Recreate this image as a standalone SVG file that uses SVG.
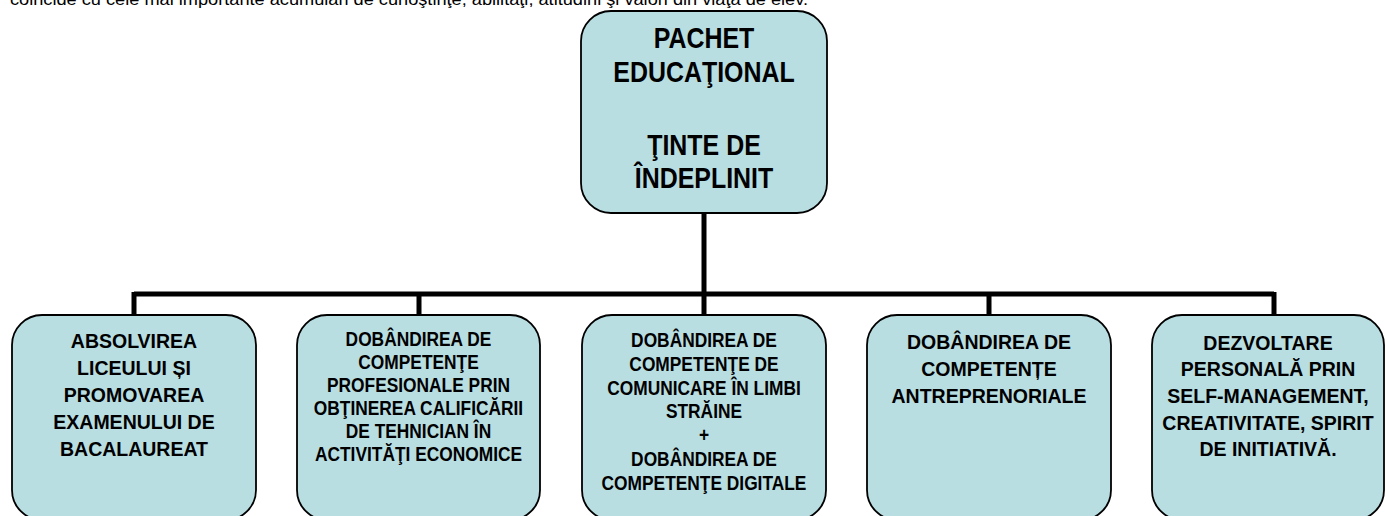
<svg xmlns="http://www.w3.org/2000/svg" width="1385" height="516" viewBox="0 0 1385 516">
<style>
.box{fill:#B8DEE2;stroke:#000;stroke-width:1.8}
.t{font-family:"Liberation Sans",Arial,sans-serif;font-weight:bold;fill:#000;text-anchor:middle}
.big{font-size:29px}
.sm{font-size:19.5px}
.top{font-family:"Liberation Sans",Arial,sans-serif;font-size:16px;fill:#000}
.conn{stroke:#000;stroke-width:5;fill:none}
</style>
<rect width="1385" height="516" fill="#fff"/>
<text class="top" x="10" y="4.5" textLength="798" lengthAdjust="spacingAndGlyphs">coincide cu cele mai importante acumulări de cunoştinţe, abilităţi, atitudini şi valori din viaţa de elev.</text>
<g id="connectors">
<path class="conn" d="M704 213 V294 M134 294 H1274 M134 292 V315 M419 292 V315 M704 292 V315 M989 292 V315 M1274 292 V315"/>
</g>
<g id="root">
<rect class="box" x="581" y="11" width="246" height="202" rx="30"/>
<g transform="translate(704,0) scale(0.86,1)">
<text class="t big" x="0" y="48">PACHET</text>
<text class="t big" x="0" y="82">EDUCAŢIONAL</text>
<text class="t big" x="0" y="155">ŢINTE DE</text>
<text class="t big" x="0" y="188">ÎNDEPLINIT</text>
</g>
</g>
<g id="n1">
<rect class="box" x="12" y="315" width="244" height="205" rx="30"/>
<text class="t sm" x="134" y="348">ABSOLVIREA</text>
<text class="t sm" x="134" y="375">LICEULUI ȘI</text>
<text class="t sm" x="134" y="402">PROMOVAREA</text>
<text class="t sm" x="134" y="429">EXAMENULUI DE</text>
<text class="t sm" x="134" y="456">BACALAUREAT</text>
</g>
<g id="n2">
<rect class="box" x="297" y="315" width="243" height="205" rx="30"/>
<g transform="translate(418.5,0) scale(0.89,1)">
<text class="t sm" x="0" y="346.5">DOBÂNDIREA DE</text>
<text class="t sm" x="0" y="369.5">COMPETENŢE</text>
<text class="t sm" x="0" y="392.5">PROFESIONALE PRIN</text>
<text class="t sm" x="0" y="415.5">OBŢINEREA CALIFICĂRII</text>
<text class="t sm" x="0" y="438.5">DE TEHNICIAN ÎN</text>
<text class="t sm" x="0" y="461.5">ACTIVITĂŢI ECONOMICE</text>
</g>
</g>
<g id="n3">
<rect class="box" x="582" y="315" width="244" height="205" rx="30"/>
<g transform="translate(704,0) scale(0.89,1)">
<text class="t sm" x="0" y="347">DOBÂNDIREA DE</text>
<text class="t sm" x="0" y="370.8">COMPETENŢE DE</text>
<text class="t sm" x="0" y="394.6">COMUNICARE ÎN LIMBI</text>
<text class="t sm" x="0" y="418.4">STRĂINE</text>
<text class="t sm" x="0" y="442.2">+</text>
<text class="t sm" x="0" y="466">DOBÂNDIREA DE</text>
<text class="t sm" x="0" y="489.8">COMPETENŢE DIGITALE</text>
</g>
</g>
<g id="n4">
<rect class="box" x="867" y="315" width="244" height="205" rx="30"/>
<text class="t sm" x="989" y="349">DOBÂNDIREA DE</text>
<text class="t sm" x="989" y="376">COMPETENȚE</text>
<text class="t sm" x="989" y="403">ANTREPRENORIALE</text>
</g>
<g id="n5">
<rect class="box" x="1152" y="315" width="232" height="205" rx="30"/>
<text class="t sm" x="1268" y="349.5">DEZVOLTARE</text>
<text class="t sm" x="1268" y="376.2">PERSONALĂ PRIN</text>
<text class="t sm" x="1268" y="402.9">SELF-MANAGEMENT,</text>
<text class="t sm" x="1268" y="429.6">CREATIVITATE, SPIRIT</text>
<text class="t sm" x="1268" y="456.3">DE INITIATIVĂ.</text>
</g>
</svg>
